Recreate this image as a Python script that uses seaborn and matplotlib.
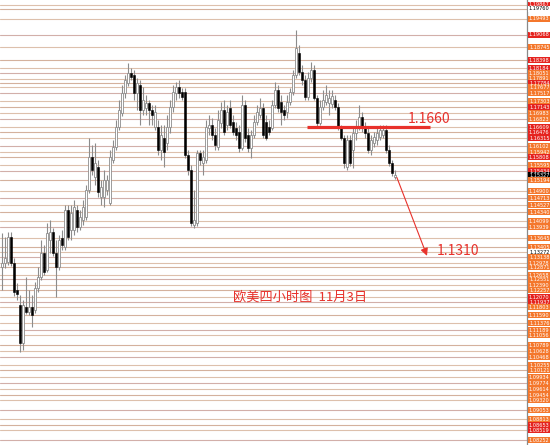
import numpy as np
import pandas as pd
import matplotlib
matplotlib.use("Agg")
import matplotlib.pyplot as plt
import matplotlib.transforms as mtransforms
from matplotlib.patches import Rectangle
import seaborn as sns

# ---------------- data ----------------
opens = [
1.1287,1.1298,1.1300,1.1367,1.1298,1.1226,1.1186,1.1084,1.1180,1.1167,
1.1180,1.1172,1.1231,1.1260,1.1325,1.1279,1.1359,1.1381,1.1325,1.1287,
1.1365,1.1341,1.1439,1.1386,1.1386,1.1439,1.1394,1.1413,1.1421,1.1493,
1.1581,1.1527,1.1554,1.1474,1.1474,1.1493,1.1458,1.1573,1.1608,1.1661,
1.1698,1.1752,1.1778,1.1805,1.1800,1.1752,1.1773,1.1706,1.1712,1.1725,
1.1706,1.1661,1.1661,1.1600,1.1632,1.1618,1.1661,1.1714,1.1752,1.1768,
1.1754,1.1754,1.1586,1.1546,1.1400,1.1405,1.1591,1.1565,1.1573,1.1658,
1.1666,1.1640,1.1608,1.1672,1.1706,1.1666,1.1712,1.1674,1.1658,1.1648,
1.1605,1.1720,1.1640,1.1605,1.1640,1.1674,1.1693,1.1712,1.1674,1.1661,
1.1658,1.1720,1.1760,1.1728,1.1706,1.1701,1.1728,1.1754,1.1800,1.1858,
1.1808,1.1786,1.1741,1.1792,1.1813,1.1738,1.1672,1.1714,1.1728,1.1725,
1.1722,1.1733,1.1714,1.1658,1.1632,1.1554,1.1626,1.1600,1.1645,1.1661,
1.1688,1.1661,1.1645,1.1600,1.1618,1.1626,1.1634,1.1640,1.1653,1.1600,
1.1565,1.1527]

highs = [
1.1378,1.1367,1.1381,1.1381,1.1311,1.1244,1.1212,1.1199,1.1260,1.1226,
1.1212,1.1247,1.1287,1.1359,1.1346,1.1405,1.1413,1.1391,1.1359,1.1373,
1.1386,1.1453,1.1453,1.1453,1.1466,1.1453,1.1439,1.1466,1.1506,1.1632,
1.1613,1.1618,1.1573,1.1519,1.1546,1.1533,1.1600,1.1626,1.1680,1.1733,
1.1773,1.1800,1.1832,1.1818,1.1813,1.1792,1.1786,1.1768,1.1746,1.1733,
1.1720,1.1720,1.1680,1.1666,1.1666,1.1693,1.1733,1.1773,1.1781,1.1786,
1.1765,1.1765,1.1600,1.1560,1.1493,1.1600,1.1600,1.1600,1.1680,1.1693,
1.1685,1.1658,1.1706,1.1728,1.1733,1.1720,1.1733,1.1693,1.1674,1.1666,
1.1746,1.1733,1.1658,1.1653,1.1693,1.1720,1.1738,1.1725,1.1693,1.1680,
1.1733,1.1781,1.1773,1.1746,1.1720,1.1746,1.1765,1.1813,1.1920,1.1880,
1.1826,1.1800,1.1808,1.1834,1.1826,1.1746,1.1733,1.1760,1.1773,1.1760,
1.1760,1.1746,1.1725,1.1666,1.1640,1.1640,1.1640,1.1658,1.1680,1.1720,
1.1701,1.1674,1.1658,1.1640,1.1648,1.1658,1.1666,1.1666,1.1666,1.1613,
1.1573,1.1546]

lows = [
1.1226,1.1284,1.1292,1.1290,1.1210,1.1199,1.1060,1.1066,1.1162,1.1159,
1.1127,1.1164,1.1220,1.1252,1.1266,1.1274,1.1325,1.1316,1.1207,1.1279,
1.1333,1.1333,1.1359,1.1359,1.1373,1.1381,1.1386,1.1400,1.1413,1.1485,
1.1533,1.1506,1.1474,1.1453,1.1447,1.1479,1.1453,1.1565,1.1600,1.1653,
1.1690,1.1738,1.1770,1.1786,1.1733,1.1706,1.1666,1.1693,1.1693,1.1666,
1.1666,1.1653,1.1586,1.1573,1.1554,1.1600,1.1645,1.1701,1.1733,1.1738,
1.1733,1.1578,1.1533,1.1397,1.1391,1.1397,1.1560,1.1533,1.1565,1.1640,
1.1626,1.1600,1.1600,1.1658,1.1640,1.1653,1.1658,1.1640,1.1626,1.1594,
1.1600,1.1621,1.1594,1.1578,1.1632,1.1666,1.1685,1.1632,1.1626,1.1640,
1.1653,1.1712,1.1701,1.1666,1.1680,1.1685,1.1720,1.1746,1.1792,1.1800,
1.1773,1.1733,1.1733,1.1781,1.1733,1.1664,1.1666,1.1706,1.1720,1.1693,
1.1712,1.1706,1.1653,1.1626,1.1551,1.1546,1.1557,1.1551,1.1626,1.1653,
1.1648,1.1632,1.1591,1.1586,1.1608,1.1613,1.1626,1.1632,1.1591,1.1557,
1.1530,1.1522]

closes = [
1.1298,1.1311,1.1367,1.1298,1.1220,1.1215,1.1084,1.1186,1.1167,1.1180,
1.1159,1.1231,1.1260,1.1325,1.1274,1.1378,1.1381,1.1325,1.1287,1.1359,
1.1346,1.1439,1.1367,1.1431,1.1447,1.1394,1.1421,1.1447,1.1493,1.1581,
1.1546,1.1565,1.1487,1.1501,1.1519,1.1519,1.1581,1.1608,1.1661,1.1706,
1.1752,1.1786,1.1805,1.1794,1.1752,1.1778,1.1706,1.1733,1.1725,1.1706,
1.1693,1.1701,1.1600,1.1640,1.1594,1.1661,1.1714,1.1754,1.1768,1.1752,
1.1741,1.1586,1.1546,1.1405,1.1413,1.1591,1.1573,1.1581,1.1661,1.1666,
1.1640,1.1613,1.1680,1.1706,1.1648,1.1701,1.1666,1.1648,1.1640,1.1605,
1.1720,1.1632,1.1605,1.1640,1.1674,1.1701,1.1712,1.1640,1.1632,1.1648,
1.1720,1.1760,1.1712,1.1701,1.1693,1.1728,1.1754,1.1800,1.1872,1.1808,
1.1786,1.1741,1.1792,1.1813,1.1738,1.1672,1.1714,1.1733,1.1746,1.1738,
1.1744,1.1714,1.1658,1.1632,1.1565,1.1626,1.1565,1.1645,1.1661,1.1688,
1.1661,1.1645,1.1600,1.1626,1.1634,1.1645,1.1653,1.1653,1.1600,1.1565,
1.1538,1.1533]

# price levels (horizontal lines) and the colour type of their right-hand label
level_prices = [
1.19867,1.19760,1.19493,1.19068,1.18745,1.18398,1.18184,1.18051,1.17891,1.17784,
1.17677,1.17517,1.17303,1.17143,1.16983,1.16823,1.16609,1.16476,1.16315,1.16102,
1.15942,1.15808,1.15595,1.15434,1.15327,1.15194,1.14900,1.14713,1.14527,1.14340,
1.14099,1.13939,1.13645,1.13405,1.13272,1.13138,1.12978,1.12871,1.12658,1.12551,
1.12390,1.12257,1.12070,1.11937,1.11803,1.11590,1.11376,1.11189,1.11056,1.10789,
1.10628,1.10468,1.10255,1.10121,1.09934,1.09774,1.09614,1.09454,1.09320,1.09053,
1.08813,1.08653,1.08519,1.08252]
level_kinds = list(
"rwororroor"
"oooroorbro"
"ororkooooo"
"oooowooooo"
"oorroooooo"
"oooooooooo"
"orro")

resistance = 1.1660
target = 1.1310
title_text = "欧美四小时图  11月3日"

# ---------------- plot ----------------
sns.set_theme(style="white")
plt.rcParams['font.family'] = ['Noto Sans CJK SC', 'DejaVu Sans']

df = pd.DataFrame({"open": opens, "high": highs, "low": lows, "close": closes})
df["idx"] = np.arange(len(df))
df["up"] = df["close"] >= df["open"]

W, H = 550, 445
fig = plt.figure(figsize=(W / 100, H / 100), dpi=100)
fig.patch.set_facecolor("white")
ax = fig.add_axes([0, 0, 527 / W, 1])
ax.set_facecolor("white")
ax.set_xlim(-0.67, 175)
ax.set_ylim(1.0812, 1.2000)
for s in ["left", "top", "bottom"]:
    ax.spines[s].set_visible(False)
ax.spines["right"].set_color("#8a8a8a")
ax.spines["right"].set_linewidth(0.9)
ax.set_xticks([])
ax.set_yticks([])

# horizontal level lines
line_cols = ["#ddc0ac", "#d4b19d", "#ddc0ac", "#d2afa9"]
for i, p in enumerate(level_prices):
    if level_kinds[i] == "k":
        continue
    ax.axhline(p, color=line_cols[i % len(line_cols)], lw=0.8, zorder=1)

# candles
ax.vlines(df["idx"], df["low"], df["high"], color="#8c8c8c", lw=0.8, zorder=3)
body_h = (df["close"] - df["open"]).abs().clip(lower=0.00012)
body_b = df[["open", "close"]].min(axis=1)
up = df["up"].values
ax.bar(df["idx"][up], body_h[up], bottom=body_b[up], width=0.75,
       color="white", edgecolor="#8c8c8c", linewidth=0.6, zorder=4)
ax.bar(df["idx"][~up], body_h[~up], bottom=body_b[~up], width=0.75,
       color="black", edgecolor="black", linewidth=0.4, zorder=4)

# right-hand price labels
trans = mtransforms.blended_transform_factory(ax.transAxes, ax.transData)
box_w = 23 / 527
box_h = 6.6 * (0.1188 / H)
kind_colors = {"r": "#e5231f", "o": "#f4772c", "w": "white", "k": "black", "b": "#e5231f"}
for p, k in zip(level_prices, level_kinds):
    rect = Rectangle((1.0015, p - box_h / 2), box_w, box_h, transform=trans,
                     facecolor=kind_colors[k], edgecolor="none", clip_on=False, zorder=5)
    ax.add_patch(rect)
    tcol = "black" if k == "w" else "white"
    ax.text(1.0015 + box_w / 2, p, f"{p:.5f}", transform=trans, ha="center", va="center",
            fontsize=3.6, color=tcol, clip_on=False, zorder=6, family="DejaVu Sans")

# annotations
red = "#e8312b"
ax.hlines(resistance, 101.7, 142.7, color=red, lw=2.3, zorder=7)
ax.text(135.2, resistance + 0.0004, f"{resistance:.4f}", color=red, fontsize=10,
        ha="left", va="bottom", zorder=8)
ax.annotate("", xy=(142.0, target), xytext=(131.3, df["close"].iloc[-1]),
            arrowprops=dict(arrowstyle="-|>", color=red, lw=0.8, mutation_scale=11),
            zorder=8)
ax.text(145.0, target + 0.0020, f"{target:.4f}", color=red, fontsize=10,
        ha="left", va="center", zorder=8)
ax.text(77.0, 1.1207, title_text, color=red, fontsize=9.5, ha="left", va="center", zorder=8)

fig.savefig("out.png", dpi=100, facecolor="white")
